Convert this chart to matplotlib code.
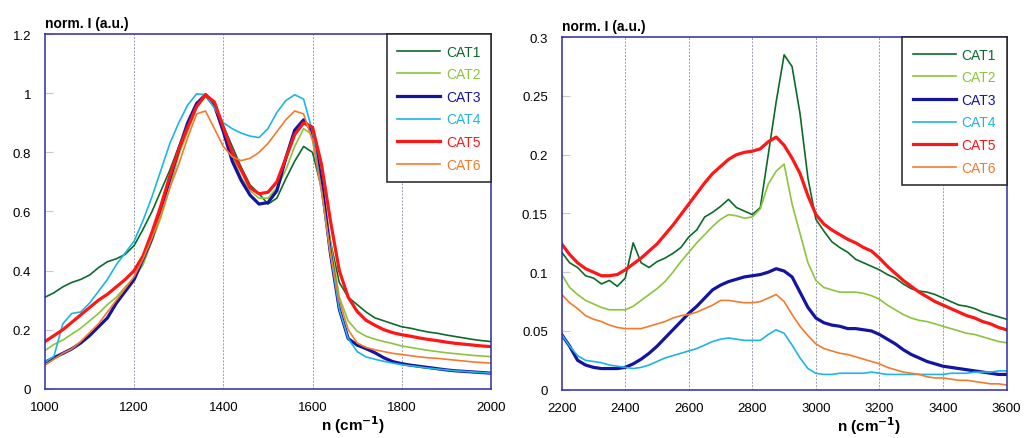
import matplotlib
matplotlib.use('Agg')
import matplotlib.pyplot as plt
from matplotlib.ticker import FuncFormatter

plt.rcParams['font.family'] = ['Liberation Sans', 'DejaVu Sans']

labels = ['CAT1', 'CAT2', 'CAT3', 'CAT4', 'CAT5', 'CAT6']
colors = ['#0b6b2a', '#8cc43c', '#1414a0', '#1eb4e4', '#ff1616', '#f57a2c']
widths = [1.2, 1.2, 2.3, 1.2, 2.3, 1.2]

# left panel: 1000-2000 cm-1, step 20
wn_left = list(range(1000, 2001, 20))

left_cat1 = [0.31, 0.325, 0.345, 0.36, 0.37, 0.385, 0.41, 0.43, 0.44, 0.455,
             0.485, 0.54, 0.6, 0.67, 0.74, 0.82, 0.89, 0.955, 0.995, 0.96,
             0.89, 0.82, 0.75, 0.69, 0.66, 0.625, 0.645, 0.71, 0.77, 0.82,
             0.8, 0.68, 0.5, 0.36, 0.31, 0.285, 0.26, 0.24, 0.23, 0.22,
             0.21, 0.205, 0.198, 0.192, 0.188, 0.182, 0.177, 0.172, 0.167, 0.163,
             0.16]
left_cat2 = [0.13, 0.15, 0.165, 0.185, 0.205, 0.23, 0.255, 0.285, 0.31, 0.345,
             0.375, 0.42, 0.5, 0.58, 0.68, 0.79, 0.87, 0.95, 0.99, 0.95,
             0.87, 0.79, 0.715, 0.67, 0.645, 0.645, 0.68, 0.74, 0.82, 0.88,
             0.86, 0.72, 0.5, 0.31, 0.23, 0.195, 0.178, 0.168, 0.16, 0.153,
             0.145, 0.14, 0.135, 0.13, 0.126, 0.122, 0.119, 0.116, 0.113, 0.111,
             0.109]
left_cat3 = [0.09, 0.105, 0.12, 0.135, 0.155, 0.18, 0.21, 0.24, 0.29, 0.33,
             0.37, 0.44, 0.51, 0.61, 0.71, 0.81, 0.9, 0.965, 0.995, 0.96,
             0.87, 0.77, 0.705, 0.655, 0.625, 0.63, 0.67, 0.78, 0.875, 0.91,
             0.87, 0.7, 0.46, 0.27, 0.17, 0.148, 0.136, 0.122, 0.105, 0.092,
             0.085, 0.08, 0.076, 0.072, 0.068, 0.064, 0.061, 0.059, 0.057, 0.055,
             0.053]
left_cat4 = [0.09, 0.11, 0.22, 0.255, 0.26, 0.29, 0.33, 0.37, 0.42, 0.46,
             0.5, 0.57, 0.65, 0.74, 0.83, 0.9, 0.96, 0.998, 0.995, 0.95,
             0.9, 0.88, 0.865, 0.855, 0.85, 0.88, 0.935, 0.975, 0.995, 0.98,
             0.87, 0.67, 0.46, 0.27, 0.17, 0.126, 0.108, 0.1, 0.093, 0.087,
             0.082, 0.078, 0.074, 0.07, 0.067, 0.064, 0.061, 0.059, 0.057, 0.055,
             0.053]
left_cat5 = [0.16, 0.18, 0.2, 0.225, 0.25, 0.275, 0.3, 0.32, 0.345, 0.37,
             0.4, 0.45, 0.53, 0.62, 0.72, 0.81, 0.885, 0.955, 0.995, 0.97,
             0.885, 0.8, 0.74, 0.68, 0.66, 0.665, 0.7, 0.78, 0.86, 0.9,
             0.885, 0.76, 0.57, 0.4, 0.31, 0.262, 0.232, 0.215, 0.2, 0.19,
             0.183, 0.178, 0.172, 0.167, 0.163, 0.158, 0.154, 0.151, 0.148, 0.145,
             0.143]
left_cat6 = [0.08, 0.1, 0.12, 0.135, 0.16, 0.19, 0.22, 0.26, 0.3, 0.34,
             0.38, 0.44, 0.51, 0.59, 0.68, 0.76, 0.85, 0.93, 0.94, 0.88,
             0.82, 0.785, 0.772, 0.78, 0.8, 0.83, 0.87, 0.91, 0.94, 0.93,
             0.84, 0.67, 0.46, 0.3, 0.2, 0.155, 0.14, 0.132, 0.126, 0.12,
             0.116, 0.112, 0.108, 0.105, 0.103, 0.1, 0.097, 0.094, 0.091, 0.089,
             0.087]

# right panel: 2200-3600 cm-1, step 25
wn_right = list(range(2200, 3601, 25))

right_cat1 = [0.117, 0.108, 0.104, 0.097, 0.095, 0.09, 0.093, 0.088, 0.095, 0.125,
              0.108, 0.104, 0.109, 0.112, 0.116, 0.121, 0.13, 0.136, 0.147, 0.151,
              0.156, 0.162, 0.155, 0.152, 0.149, 0.155, 0.2, 0.245, 0.285, 0.275,
              0.235, 0.18, 0.145, 0.135, 0.126, 0.121, 0.117, 0.111, 0.108, 0.105,
              0.102, 0.098, 0.095, 0.09, 0.086, 0.084, 0.083, 0.081, 0.078, 0.075,
              0.072, 0.071, 0.069, 0.066, 0.064, 0.062, 0.06]
right_cat2 = [0.098, 0.087, 0.081, 0.076, 0.073, 0.07, 0.068, 0.068, 0.068, 0.071,
              0.076, 0.081, 0.086, 0.092, 0.1, 0.109, 0.117, 0.125, 0.132, 0.139,
              0.145, 0.149, 0.148, 0.146, 0.147, 0.154, 0.175, 0.186, 0.192, 0.158,
              0.133, 0.108, 0.093, 0.087, 0.085, 0.083, 0.083, 0.083, 0.082, 0.08,
              0.077, 0.072, 0.068, 0.064, 0.061, 0.059, 0.058, 0.056, 0.054, 0.052,
              0.05, 0.048, 0.047, 0.045, 0.043, 0.041, 0.04]
right_cat3 = [0.047, 0.037, 0.025, 0.021, 0.019, 0.018, 0.018, 0.018, 0.019, 0.022,
              0.026, 0.031, 0.037, 0.044, 0.051, 0.058, 0.065, 0.071, 0.078, 0.085,
              0.089, 0.092, 0.094, 0.096, 0.097, 0.098, 0.1, 0.103, 0.101, 0.096,
              0.083, 0.07, 0.061, 0.057, 0.055, 0.054, 0.052, 0.052, 0.051, 0.05,
              0.047, 0.043, 0.039, 0.034, 0.03, 0.027, 0.024, 0.022, 0.02, 0.019,
              0.018, 0.017, 0.016, 0.015, 0.014, 0.013, 0.013]
right_cat4 = [0.047, 0.037, 0.029, 0.025, 0.024, 0.023, 0.021, 0.02, 0.019, 0.018,
              0.019, 0.021, 0.024, 0.027, 0.029, 0.031, 0.033, 0.035, 0.038, 0.041,
              0.043, 0.044, 0.043, 0.042, 0.042, 0.042, 0.047, 0.051, 0.048, 0.038,
              0.027, 0.018, 0.014, 0.013, 0.013, 0.014, 0.014, 0.014, 0.014, 0.015,
              0.014, 0.013, 0.013, 0.013, 0.013, 0.013, 0.013, 0.013, 0.013, 0.014,
              0.014, 0.014, 0.015, 0.015, 0.015, 0.016, 0.016]
right_cat5 = [0.124, 0.115, 0.108, 0.103, 0.1, 0.097, 0.097, 0.098, 0.102, 0.107,
              0.112, 0.118, 0.124, 0.132, 0.14, 0.149, 0.158, 0.167, 0.176, 0.184,
              0.19, 0.196, 0.2, 0.202, 0.203, 0.205, 0.211, 0.215, 0.208, 0.197,
              0.184, 0.165, 0.149, 0.141, 0.136, 0.132, 0.128, 0.125, 0.121, 0.118,
              0.112, 0.105, 0.099, 0.093, 0.088, 0.083, 0.079, 0.075, 0.072, 0.069,
              0.066, 0.063, 0.061, 0.058, 0.056, 0.053, 0.051]
right_cat6 = [0.081, 0.074, 0.069, 0.063, 0.06, 0.058, 0.055, 0.053, 0.052, 0.052,
              0.052, 0.054, 0.056, 0.058, 0.061, 0.063, 0.064, 0.066, 0.069, 0.072,
              0.076, 0.076, 0.075, 0.074, 0.074, 0.075, 0.078, 0.081, 0.075, 0.064,
              0.054, 0.046, 0.039, 0.035, 0.033, 0.031, 0.03, 0.028, 0.026, 0.024,
              0.022, 0.019, 0.017, 0.015, 0.014, 0.013, 0.011, 0.01, 0.01, 0.009,
              0.008, 0.008, 0.007, 0.006, 0.005, 0.005, 0.004]

left_series = [left_cat1, left_cat2, left_cat3, left_cat4, left_cat5, left_cat6]
right_series = [right_cat1, right_cat2, right_cat3, right_cat4, right_cat5, right_cat6]

fig = plt.figure(figsize=(10.25, 4.39), dpi=100)
ax1 = fig.add_axes([0.0439, 0.112, 0.435, 0.808])
ax2 = fig.add_axes([0.548, 0.110, 0.434, 0.803])

frame_col = '#2b2ba8'
grid_col = '#9a9ab4'


def style_axes(ax, xlim, xticks, ylim, yticks):
    ax.set_xlim(*xlim)
    ax.set_ylim(*ylim)
    ax.set_xticks(xticks)
    ax.set_yticks(yticks)
    ax.yaxis.set_major_formatter(FuncFormatter(lambda v, p: '%g' % round(v, 3)))
    for s in ax.spines.values():
        s.set_color(frame_col)
        s.set_linewidth(1.1)
    ax.tick_params(axis='x', length=0, pad=9, labelsize=9.5)
    ax.tick_params(axis='y', direction='in', length=6, color='#c8c8d0',
                   pad=10, labelsize=9.5)
    for xt in xticks[1:-1]:
        ax.axvline(xt, color=grid_col, lw=0.7, ls=(0, (2, 1.5)), zorder=0)
    ax.text(0.0, 1.012, 'norm. I (a.u.)', transform=ax.transAxes,
            fontsize=10, fontweight='bold', ha='left', va='bottom')
    ax.text(0.69, -0.1, r'n (cm$^{\mathbf{-1}}$)', transform=ax.transAxes,
            fontsize=11, fontweight='bold', ha='center', va='center')


for ax, wn, series in [(ax1, wn_left, left_series), (ax2, wn_right, right_series)]:
    for ys, lab, c, w in zip(series, labels, colors, widths):
        ax.plot(wn, ys, color=c, lw=w, label=lab)
    leg = ax.legend(loc='upper right', borderaxespad=0, fancybox=False,
                    edgecolor='#202020', fontsize=10, handlelength=3.1,
                    handletextpad=0.4, labelspacing=0.62, borderpad=0.75,
                    framealpha=1)
    leg.get_frame().set_linewidth(1.1)
    for t, c in zip(leg.get_texts(), colors):
        t.set_color(c)

style_axes(ax1, (1000, 2000), list(range(1000, 2001, 200)), (0, 1.2),
           [0, 0.2, 0.4, 0.6, 0.8, 1.0, 1.2])
style_axes(ax2, (2200, 3600), list(range(2200, 3601, 200)), (0, 0.3),
           [0, 0.05, 0.1, 0.15, 0.2, 0.25, 0.3])

fig.savefig('out.png', dpi=100)
plt.close(fig)
